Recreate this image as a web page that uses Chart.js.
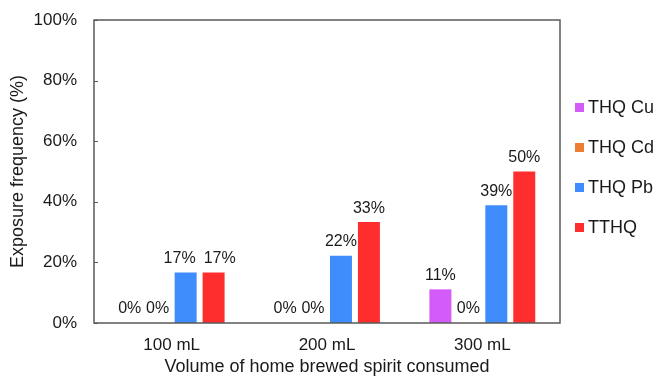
<!DOCTYPE html>
<html>
<head>
<meta charset="utf-8">
<script src="https://cdn.jsdelivr.net/npm/chart.js@4.4.1/dist/chart.umd.min.js"></script>
<style>
  html, body { margin: 0; padding: 0; background: #fff; }
  #wrap { width: 657px; height: 378px; position: relative; }
</style>
</head>
<body>
<div id="wrap"><canvas id="c" width="657" height="378"></canvas></div>
<script>
const categories = ["100 mL", "200 mL", "300 mL"];
const seriesNames = ["THQ Cu", "THQ Cd", "THQ Pb", "TTHQ"];
const thqCu = [0, 0, 11.1];
const thqCd = [0, 0, 0];
const thqPb = [16.7, 22.2, 38.9];
const tthq = [16.7, 33.3, 50];
const yTicks = [0, 20, 40, 60, 80, 100];
const colors = ["#D35CF8", "#ED7D31", "#3F8CFC", "#FF2E2E"];

const FONT = "'Liberation Sans', Arial, sans-serif";
const TEXT = "#1a1a1a";
const AXIS = "#595959";

const frameAndLabels = {
  id: "frameAndLabels",
  afterDatasetsDraw(chart) {
    const ctx = chart.ctx;
    const a = chart.chartArea;
    ctx.save();
    // data labels, with simple overlap avoidance inside each category
    ctx.font = "16px " + FONT;
    ctx.fillStyle = TEXT;
    ctx.textAlign = "center";
    ctx.textBaseline = "bottom";
    const nCat = chart.data.labels.length;
    for (let i = 0; i < nCat; i++) {
      const items = chart.data.datasets.map((ds, di) => {
        const bar = chart.getDatasetMeta(di).data[i];
        const txt = Math.round(ds.data[i]) + "%";
        return { txt, x: bar.x, y: bar.y - 6, w: ctx.measureText(txt).width };
      });
      for (let k = 1; k < items.length; k++) {
        const p = items[k - 1], q = items[k];
        if (Math.abs(p.y - q.y) < 12) {
          const gap = (q.x - q.w / 2) - (p.x + p.w / 2);
          if (gap < 0) {
            const shift = (8 - gap) / 2;
            p.x -= shift;
            q.x += shift;
          }
        }
      }
      items.forEach(it => ctx.fillText(it.txt, it.x, it.y));
    }
    // frame
    ctx.strokeStyle = AXIS;
    ctx.lineWidth = 1.5;
    ctx.strokeRect(a.left, a.top, a.right - a.left, a.bottom - a.top);
    // inward y tick marks
    const ys = chart.scales.y;
    ctx.lineWidth = 1;
    yTicks.forEach(t => {
      const py = Math.round(ys.getPixelForValue(t)) + 0.5;
      ctx.beginPath();
      ctx.moveTo(a.left, py);
      ctx.lineTo(a.left + 4, py);
      ctx.stroke();
    });
    // legend (right side, vertically stacked)
    ctx.font = "18px " + FONT;
    ctx.textAlign = "left";
    ctx.textBaseline = "middle";
    const lx = a.right + 15;
    const midY = (a.top + a.bottom) / 2 - 4;
    const step = 40;
    chart.data.datasets.forEach((ds, i) => {
      const cy = midY + (i - 1.5) * step;
      ctx.fillStyle = ds.backgroundColor;
      ctx.fillRect(lx, cy - 4.5, 9, 9);
      ctx.fillStyle = TEXT;
      ctx.fillText(ds.label, lx + 13, cy + 1);
    });
    ctx.restore();
  }
};

const series = [thqCu, thqCd, thqPb, tthq];
new Chart(document.getElementById("c"), {
  type: "bar",
  data: {
    labels: categories,
    datasets: series.map((d, i) => ({
      label: seriesNames[i],
      data: d,
      backgroundColor: colors[i],
      borderWidth: 0,
      categoryPercentage: 0.72,
      barPercentage: 0.786
    }))
  },
  options: {
    responsive: false,
    animation: false,
    devicePixelRatio: 1,
    layout: { padding: { left: 0, top: 20, right: 97, bottom: 0 } },
    plugins: {
      tooltip: { enabled: false },
      legend: { display: false }
    },
    scales: {
      x: {
        grid: { display: false, drawTicks: false },
        border: { display: false },
        ticks: { color: TEXT, font: { family: FONT, size: 17 }, padding: 12 },
        afterFit(scale) { scale.height = 55; scale.paddingLeft = 0; scale.paddingRight = 0; },
        title: {
          display: true,
          text: "Volume of home brewed spirit consumed",
          color: TEXT,
          font: { family: FONT, size: 18 },
          padding: { top: 0, bottom: 0 }
        }
      },
      y: {
        min: 0,
        max: 100,
        afterBuildTicks(scale) { scale.ticks = yTicks.map(v => ({ value: v })); },
        afterFit(scale) { scale.width = 94; scale.paddingTop = 0; scale.paddingBottom = 0; },
        grid: { display: false, drawTicks: false },
        border: { display: false },
        ticks: {
          color: TEXT,
          font: { family: FONT, size: 17 },
          padding: 17,
          callback: v => v + "%"
        },
        title: {
          display: true,
          text: "Exposure frequency (%)",
          color: TEXT,
          font: { family: FONT, size: 18 },
          padding: { top: 7, bottom: 0 }
        }
      }
    }
  },
  plugins: [frameAndLabels]
});
</script>
</body>
</html>
